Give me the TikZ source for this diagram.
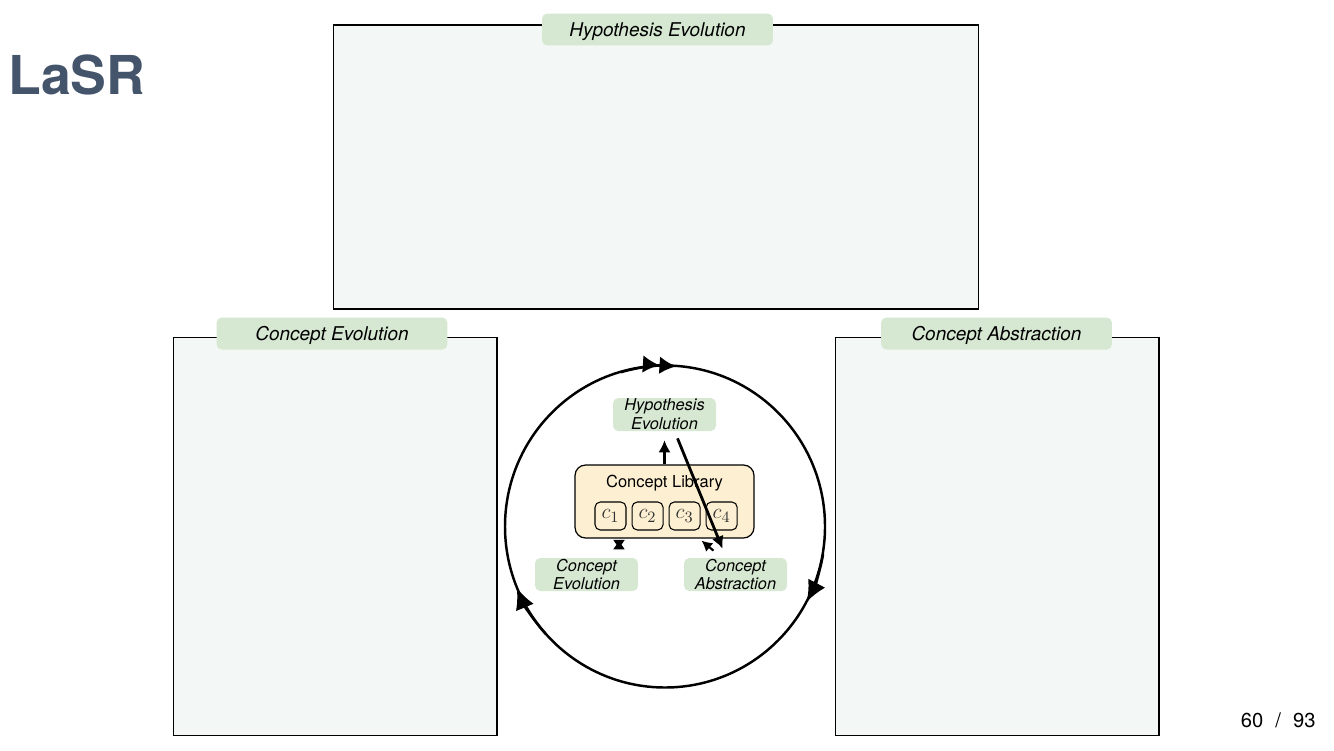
\documentclass[tikz,border=0pt]{standalone}
\usepackage{fontspec}
\setmainfont{TeX Gyre Heros}
\setsansfont{TeX Gyre Heros}
\usetikzlibrary{calc}
\usetikzlibrary{positioning}
\usetikzlibrary{arrows.meta}
\definecolor{panelfill}{RGB}{243,248,247}
\definecolor{tagfill}{RGB}{214,232,210}
\definecolor{libfill}{RGB}{253,240,210}
\definecolor{titleblue}{RGB}{68,84,106}

\begin{document}
\begin{tikzpicture}[x=0.02cm, y=-0.02cm, font=\sffamily, >={Latex[length=7pt,width=7pt]}]
		\tikzstyle{panel}=[draw=black, line width=0.6pt, fill=panelfill, rectangle, inner sep=0pt]
		\tikzstyle{tag}=[fill=tagfill, rounded corners=3pt, inner sep=0pt, minimum height=0.64cm, minimum width=4.62cm, text depth=0pt, font=\sffamily\fontsize{10.8}{13}\selectfont\itshape]
		\tikzstyle{smalltag}=[fill=tagfill, rounded corners=3pt, inner sep=0pt, minimum height=0.66cm, minimum width=2.06cm, align=center, font=\sffamily\fontsize{9.3}{10.8}\selectfont\itshape]
		\tikzstyle{cbox}=[draw=black, line width=0.6pt, rounded corners=3pt, minimum width=0.62cm, minimum height=0.56cm, inner sep=0pt, text=black!80, font=\fontsize{13}{15}\selectfont]
		\tikzstyle{arr}=[->, line width=1.6pt]
		\tikzstyle{loop}=[line width=1.4pt]
		
		\useasboundingbox (0,0) rectangle (1334,750);
		
		\node[anchor=west, inner sep=0pt, text=titleblue, font=\sffamily\fontsize{30.5}{36}\selectfont\bfseries] (title) at (8,75) {LaSR};
		\node[anchor=east, inner sep=0pt, font=\sffamily\fontsize{11.5}{14}\selectfont] (pg) at (1316,720) {60\hspace{0.6em}/\hspace{0.6em}93};
		
		% three panels
		\node[panel, minimum width=12.92cm, minimum height=5.68cm] (hp) at (656,167) {};
		\node[panel, minimum width=6.48cm, minimum height=7.98cm] (ep) at (335,536.5) {};
		\node[panel, minimum width=6.48cm, minimum height=7.98cm] (ap) at (997,536.5) {};
		\node[tag] (hpt) at ($(hp.north)+(1.5,5)$) {Hypothesis Evolution};
		\node[tag] (ept) at ($(ep.north)+(-3,-3)$) {Concept Evolution};
		\node[tag] (apt) at ($(ap.north)+(-0.5,-3)$) {Concept Abstraction};
		
		% the loop
		\coordinate (ctr) at (665,526.5);
		\draw[loop] (ctr) circle [x radius=160, y radius=161];
		\draw[loop, -{Latex[length=9.5pt,width=10pt]Latex[length=9.5pt,width=10pt]}] (ctr) ++(254:160.5) arc[start angle=254, end angle=274, radius=160.5];
		\draw[loop, -{Latex[length=12pt,width=11pt]}] (ctr) ++(10:160.5) arc[start angle=10, end angle=28, radius=160.5];
		\draw[loop, -{Latex[length=12pt,width=11pt]}] (ctr) ++(138:160.5) arc[start angle=138, end angle=157.5, radius=160.5];
		
		% library and steps
		\node[smalltag] (hyp) at (664.5,414.5) {Hypothesis\\Evolution};
		\node[draw=black, line width=0.7pt, fill=libfill, rounded corners=6pt, minimum width=3.58cm, minimum height=1.46cm, inner sep=0pt] (lib) at (664.5,501.5) {};
		\node[inner sep=0pt, font=\sffamily\fontsize{9.4}{11}\selectfont] (libt) at ($(lib.north)+(0,19)$) {Concept Library};
		\node[cbox] (c1) at (610.5,516) {$c_1$};
		\node[cbox, right=0.1cm of c1] (c2) {$c_2$};
		\node[cbox, right=0.1cm of c2] (c3) {$c_3$};
		\node[cbox, right=0.1cm of c3] (c4) {$c_4$};
		\node[smalltag] (cev) at (586.5,574.5) {Concept\\Evolution};
		\node[smalltag] (cab) at (735.5,574.5) {Concept\\Abstraction};
		
		\draw[arr, shorten >=5pt] (lib.north) -- (hyp.south);
		\draw[arr] ($(hyp.south)+(13,7)$) -- ($(cab.north)+(-13,-9)$);
		\draw[line width=1.2pt, {Latex[length=5.5pt,width=7pt]}-{Latex[length=5.5pt,width=7pt]}] ($(cev.north)+(32.5,-8)$) -- ($(lib.south)+(-45.5,1)$);
		\draw[line width=1.2pt, -{Latex[length=6pt,width=6.5pt]}] ($(cab.north)+(-22,-7)$) -- ($(lib.south)+(37,2)$);
\end{tikzpicture}
\end{document}
